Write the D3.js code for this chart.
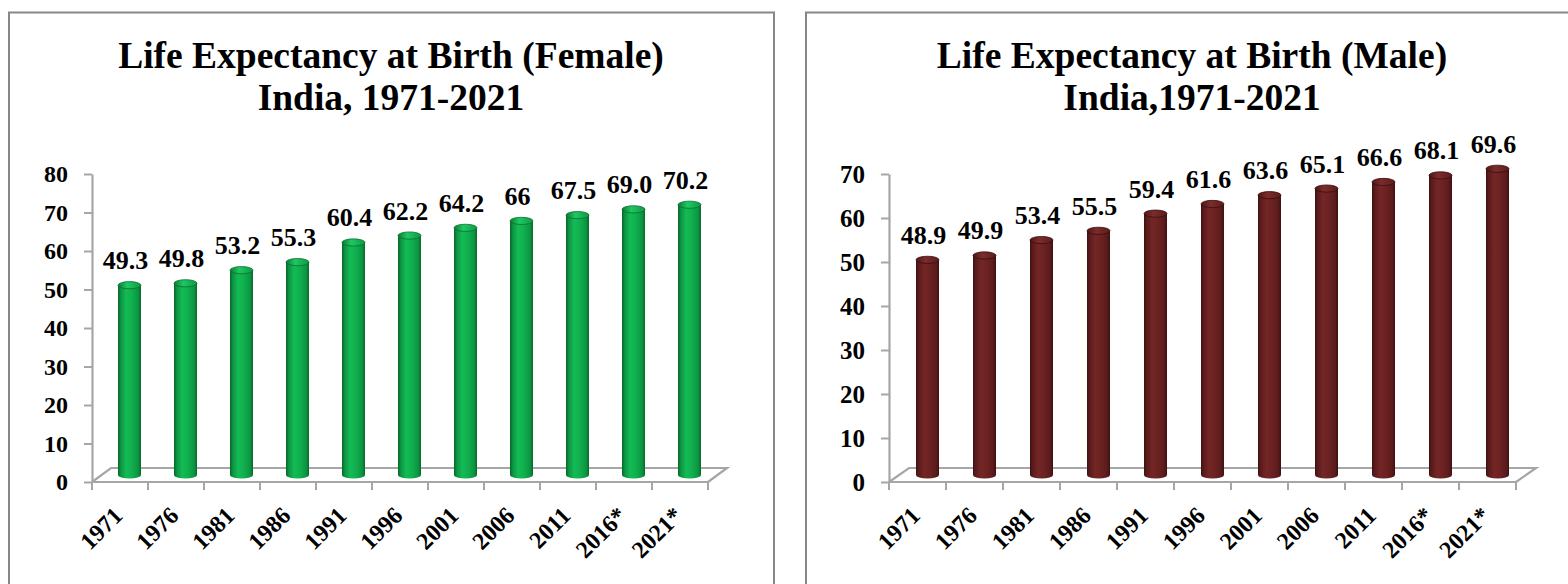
<!DOCTYPE html>
<html>
<head>
<meta charset="utf-8">
<script src="https://cdn.jsdelivr.net/npm/d3@7"></script>
<style>
  html, body { margin: 0; padding: 0; background: #fff; }
  svg { display: block; }
  text { font-family: "Liberation Serif", "Times New Roman", serif; font-weight: bold; fill: #000; }
</style>
</head>
<body>
<svg id="chart" width="1568" height="584"></svg>
<script>
// Census years (the last two are projections)
const years = ["1971", "1976", "1981", "1986", "1991", "1996", "2001", "2006", "2011", "2016*", "2021*"];

// Life expectancy at birth, female
const femaleValues = [49.3, 49.8, 53.2, 55.3, 60.4, 62.2, 64.2, 66, 67.5, 69.0, 70.2];
const femaleLabels = ["49.3", "49.8", "53.2", "55.3", "60.4", "62.2", "64.2", "66", "67.5", "69.0", "70.2"];
const femaleTicks = [0, 10, 20, 30, 40, 50, 60, 70, 80];

// Life expectancy at birth, male
const maleValues = [48.9, 49.9, 53.4, 55.5, 59.4, 61.6, 63.6, 65.1, 66.6, 68.1, 69.6];
const maleLabels = ["48.9", "49.9", "53.4", "55.5", "59.4", "61.6", "63.6", "65.1", "66.6", "68.1", "69.6"];
const maleTicks = [0, 10, 20, 30, 40, 50, 60, 70];

const svg = d3.select("#chart");
const defs = svg.append("defs");

// Horizontal shading that gives the bars a cylindrical look
function cylinderGradient(id, stops) {
  const g = defs.append("linearGradient").attr("id", id)
    .attr("x1", "0%").attr("x2", "100%").attr("y1", "0%").attr("y2", "0%");
  stops.forEach(([o, c]) => g.append("stop").attr("offset", o).attr("stop-color", c));
}
cylinderGradient("greenBody", [["0%", "#086228"], ["10%", "#0c8f3e"], ["35%", "#13bb55"], ["60%", "#10b04e"], ["88%", "#0c9442"], ["100%", "#08672b"]]);
cylinderGradient("greenCap", [["0%", "#0a7a33"], ["40%", "#20c764"], ["100%", "#0d9a45"]]);
cylinderGradient("maroonBody", [["0%", "#3f1010"], ["10%", "#581a1a"], ["35%", "#742626"], ["60%", "#6c2222"], ["88%", "#5a1b1b"], ["100%", "#3e0f0f"]]);
cylinderGradient("maroonCap", [["0%", "#4e1515"], ["40%", "#7c2c2c"], ["100%", "#5c1c1c"]]);

const axisGray = "#a6a6a6";

function drawChart(cfg) {
  const g = svg.append("g");

  // panel frame
  g.append("rect")
    .attr("x", cfg.frame[0]).attr("y", cfg.frame[1])
    .attr("width", cfg.frame[2]).attr("height", cfg.frame[3])
    .attr("fill", "none").attr("stroke", "#878787").attr("stroke-width", 2);

  // title
  const title = g.append("text").attr("text-anchor", "middle").style("font-size", cfg.titleFont + "px");
  cfg.title.forEach((line, i) => {
    title.append("tspan").attr("x", cfg.titleX).attr("y", 68 + i * 42).text(line);
  });

  const x = d3.scaleBand().domain(years).range(cfg.xRange).padding(0);
  const y = d3.scaleLinear().domain([0, d3.max(cfg.ticks)]).range([482, 174]);
  const [dx, dy] = cfg.depth;
  const y0 = y(0);
  const [xa, xb] = x.range();

  // 3-D floor outline
  g.append("path")
    .attr("d", `M${xa},${y0} L${xa + dx},${y0 + dy} L${xb + dx},${y0 + dy} L${xb},${y0}`)
    .attr("fill", "none").attr("stroke", axisGray).attr("stroke-width", 2.2);

  // value axis
  const yAxis = d3.axisLeft(y).tickValues(cfg.ticks).tickSize(8).tickSizeOuter(0).tickPadding(cfg.tickPad);
  const ya = g.append("g").attr("transform", `translate(${xa},0)`).call(yAxis);
  ya.attr("font-size", null).attr("font-family", null);
  ya.select(".domain").attr("stroke", axisGray).attr("stroke-width", 2.2);
  ya.selectAll(".tick line").attr("stroke", axisGray).attr("stroke-width", 2);
  ya.selectAll(".tick text")
    .attr("fill", "#000")
    .style("font-family", '"Liberation Serif", "Times New Roman", serif')
    .style("font-weight", "bold").style("font-size", cfg.tickFont + "px");

  // category axis: front edge, ticks on band boundaries, rotated labels
  g.append("line").attr("x1", xa).attr("x2", xb).attr("y1", y0).attr("y2", y0)
    .attr("stroke", axisGray).attr("stroke-width", 2.2);
  const bounds = years.map(d => x(d)).concat([xb]);
  g.selectAll(".xtick").data(bounds).join("line")
    .attr("x1", d => d).attr("x2", d => d).attr("y1", y0).attr("y2", y0 + 8)
    .attr("stroke", axisGray).attr("stroke-width", 2);
  g.selectAll(".xlab").data(years).join("text")
    .attr("text-anchor", "end")
    .style("font-size", "24px")
    .attr("transform", d => `translate(${x(d) + x.bandwidth() / 2 + 4},${y0 + 35}) rotate(-45)`)
    .text(d => d);

  // cylinders
  const r = 11.5, ry = 3.6;
  const bars = g.selectAll(".bar").data(cfg.values).join("g");
  const cx = (d, i) => x(years[i]) + x.bandwidth() / 2 + dx / 2;
  const yb = y0 + dy / 2;
  const yt = d => y(d) + dy / 2;
  bars.append("path")
    .attr("d", (d, i) => {
      const c = cx(d, i);
      return `M${c - r},${yt(d)} L${c - r},${yb} A${r},${ry} 0 0 0 ${c + r},${yb} L${c + r},${yt(d)} Z`;
    })
    .attr("fill", `url(#${cfg.body})`);
  bars.append("ellipse")
    .attr("cx", (d, i) => cx(d, i)).attr("cy", d => yt(d))
    .attr("rx", r).attr("ry", ry)
    .attr("fill", `url(#${cfg.cap})`).attr("stroke", cfg.rim).attr("stroke-width", 0.8);

  // value labels
  g.selectAll(".vlab").data(cfg.values).join("text")
    .attr("text-anchor", "middle")
    .style("font-size", "26px")
    .attr("x", (d, i) => cx(d, i) - 4)
    .attr("y", d => yt(d) - 16)
    .text((d, i) => cfg.labels[i]);
}

drawChart({
  frame: [9, 12.5, 765, 600],
  title: ["Life Expectancy at Birth (Female)", "India, 1971-2021"],
  titleX: 391,
  titleFont: 37.5,
  xRange: [92, 708],
  depth: [19, -14],
  ticks: femaleTicks,
  tickFont: 24,
  tickPad: 16,
  values: femaleValues,
  labels: femaleLabels,
  body: "greenBody", cap: "greenCap", rim: "#0a6e2f"
});

drawChart({
  frame: [806, 12.5, 800, 600],
  title: ["Life Expectancy at Birth (Male)", "India,1971-2021"],
  titleX: 1192,
  titleFont: 37.5,
  xRange: [889, 1516],
  depth: [20, -14],
  ticks: maleTicks,
  tickFont: 25,
  tickPad: 16,
  values: maleValues,
  labels: maleLabels,
  body: "maroonBody", cap: "maroonCap", rim: "#3a0d0d"
});
</script>
</body>
</html>
